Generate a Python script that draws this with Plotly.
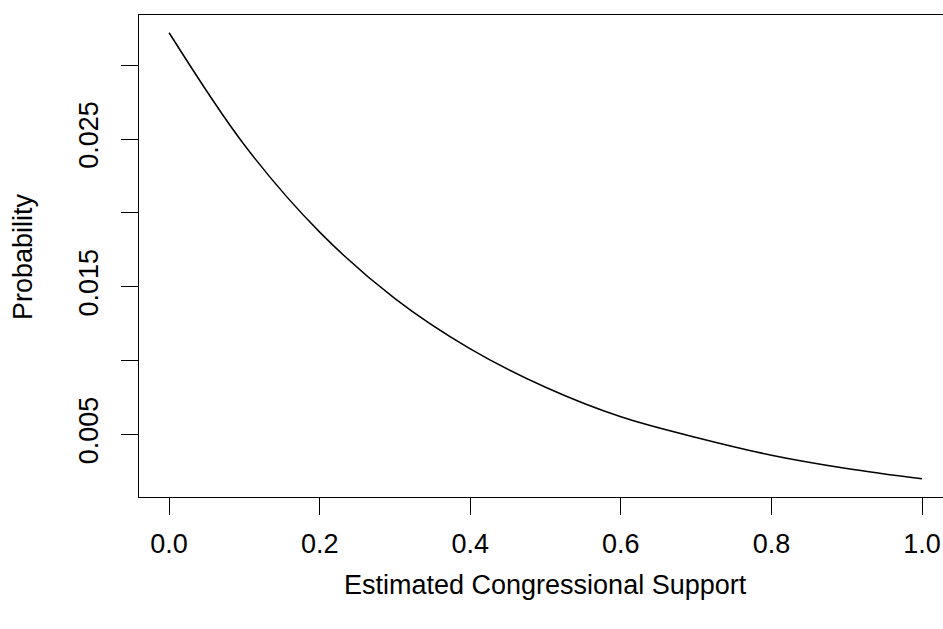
import plotly.graph_objects as go

support = [0.0, 0.1, 0.2, 0.3, 0.4, 0.5, 0.6, 0.7, 0.8, 0.9, 1.0]
probability = [0.0322, 0.0246, 0.0187, 0.0142, 0.0108, 0.0082, 0.0062, 0.0048, 0.0036, 0.0027, 0.0020]

x_ticks = [0.0, 0.2, 0.4, 0.6, 0.8, 1.0]
x_ticktext = ["0.0", "0.2", "0.4", "0.6", "0.8", "1.0"]
y_ticks = [0.005, 0.010, 0.015, 0.020, 0.025, 0.030]
y_ticktext = ["0.005", "", "0.015", "", "0.025", ""]

FONT = "Liberation Sans, Arial, Helvetica, sans-serif"
W, H = 943, 629
L, T, B = 139, 15, 132

fig = go.Figure()
fig.add_trace(go.Scatter(
    x=support, y=probability, mode="lines",
    line=dict(color="black", width=1.5, shape="spline", smoothing=1.0),
    hoverinfo="skip", showlegend=False,
))

fig.update_layout(
    width=W, height=H,
    margin=dict(l=L, r=0, t=T, b=B, pad=0),
    paper_bgcolor="white", plot_bgcolor="white",
    font=dict(family=FONT, size=27, color="black"),
    xaxis=dict(
        range=[-0.04, (943 - 169) / 753],
        tickvals=x_ticks, ticktext=x_ticktext,
        ticks="outside", ticklen=17, tickwidth=1.4, tickcolor="black",
        showline=True, linecolor="black", linewidth=1.4, mirror=True,
        showgrid=False, zeroline=False,
        ticklabelstandoff=5,
    ),
    yaxis=dict(
        range=[0.00077, 0.0334],
        tickvals=y_ticks, ticktext=y_ticktext,
        tickangle=-90,
        ticks="outside", ticklen=17, tickwidth=1.4, tickcolor="black",
        showline=True, linecolor="black", linewidth=1.4, mirror=False,
        showgrid=False, zeroline=False,
        ticklabelstandoff=12,
    ),
    annotations=[
        dict(text="Estimated Congressional Support", xref="paper", yref="paper",
             x=(545.5 - L) / (W - L), y=-(585 - (H - B)) / (H - B - T),
             xanchor="center", yanchor="middle", showarrow=False,
             font=dict(family=FONT, size=27, color="black")),
        dict(text="Probability", xref="paper", yref="paper",
             x=-(L - 23) / (W - L), y=0.5, textangle=-90,
             xanchor="center", yanchor="middle", showarrow=False,
             font=dict(family=FONT, size=27, color="black")),
    ],
)

fig.write_html("out.html")
